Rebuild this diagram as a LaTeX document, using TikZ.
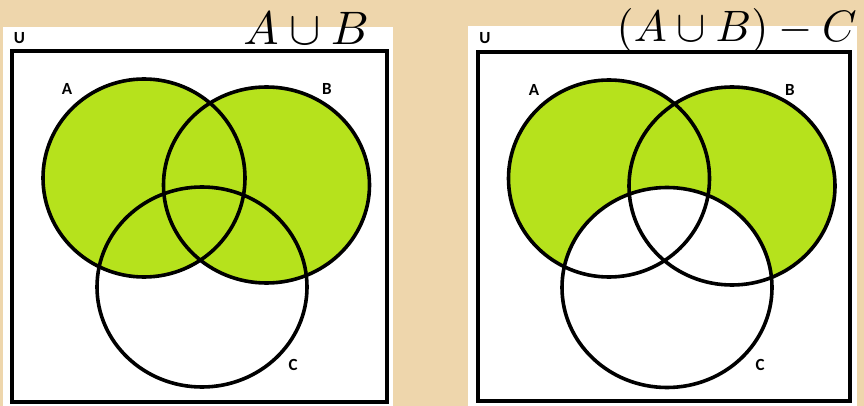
\documentclass[tikz,border=0pt]{standalone}
\usepackage{graphicx}
\usepackage{fontspec}
\newfontfamily\labfont{Carlito}
\definecolor{parch}{RGB}{238,214,172}
\definecolor{venngreen}{RGB}{182,226,28}
\begin{document}
\begin{tikzpicture}[x=1pt,y=-1pt,
  setline/.style={line width=3.6pt,draw=black},
  framebox/.style={line width=4pt,draw=black},
  setlabel/.style={font=\labfont\bfseries\fontsize{17}{17}\selectfont,inner sep=0pt},
  titlelab/.style={inner sep=0pt}]
\useasboundingbox (0,0) rectangle (864,406);
\fill[parch] (0,0) rectangle (864,406);
% ---------- left panel ----------
\fill[white] (3,27) rectangle (393,406);
\draw[framebox] (12,51) rectangle (387,401.5);
\fill[venngreen] (144,178) ellipse [x radius=101,y radius=99];
\fill[venngreen] (266.5,185) ellipse [x radius=103,y radius=98];
\draw[setline] (144,178) ellipse [x radius=101,y radius=99];
\draw[setline] (266.5,185) ellipse [x radius=103,y radius=98];
\draw[setline] (202,287) ellipse [x radius=105,y radius=100];
\node[setlabel] (lU) at (19.5,38) {U};
\node[setlabel] (lA) at (67,89) {A};
\node[setlabel] (lB) at (327,89) {B};
\node[setlabel] (lC) at (293,365) {C};
\node[titlelab,anchor=base east] (ltitle) at (369,45) {\scalebox{4.7}{$A\cup B$}};
% ---------- right panel ----------
\fill[white] (468,26) rectangle (857,406);
\draw[framebox] (477.5,52.5) rectangle (850,400.5);
\fill[venngreen] (609,178.5) ellipse [x radius=100.5,y radius=98.5];
\fill[venngreen] (732,186) ellipse [x radius=103,y radius=99];
\fill[white] (667,287.5) ellipse [x radius=105,y radius=100];
\draw[setline] (609,178.5) ellipse [x radius=100.5,y radius=98.5];
\draw[setline] (732,186) ellipse [x radius=103,y radius=99];
\draw[setline] (667,287.5) ellipse [x radius=105,y radius=100];
\node[setlabel] (rU) at (485,38.5) {U};
\node[setlabel] (rA) at (534,90) {A};
\node[setlabel] (rB) at (790,90) {B};
\node[setlabel] (rC) at (760,365) {C};
\node[titlelab,anchor=base east] (rtitle) at (857,42) {\scalebox{4.4}{$(A\cup B)-C$}};
\end{tikzpicture}
\end{document}
